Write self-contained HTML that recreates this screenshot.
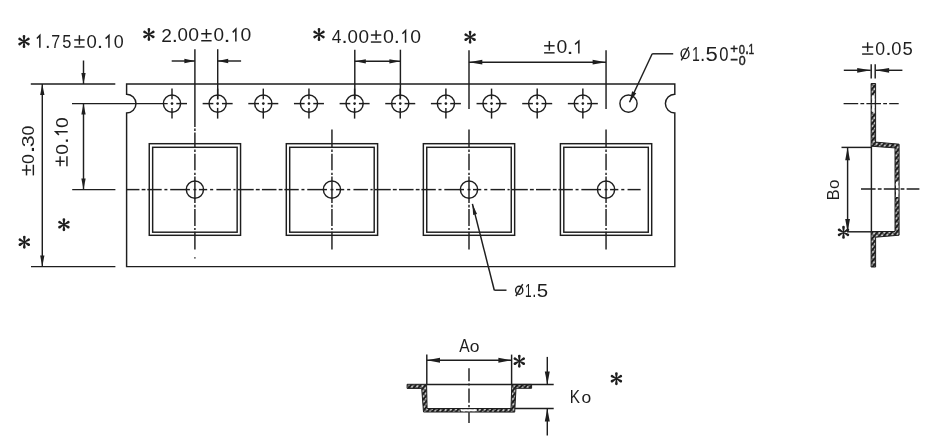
<!DOCTYPE html>
<html><head><meta charset="utf-8"><style>
html,body{margin:0;padding:0;background:#fff;}
svg{display:block;will-change:transform;}
text{font-family:"Liberation Sans",sans-serif;fill:#1e1e1e;stroke:none;}
.b text{stroke:#1e1e1e;stroke-width:0.45px;}
</style></head><body>
<svg width="950" height="445" viewBox="0 0 950 445" fill="none" stroke="#1e1e1e" stroke-linecap="butt">
<defs><pattern id="hatch" patternUnits="userSpaceOnUse" width="3.7" height="3.7" patternTransform="rotate(-50)">
<rect width="3.7" height="3.7" fill="#1e1e1e" stroke="none"/><rect x="0.5" y="1.2" width="2.7" height="1.35" fill="#fff" stroke="none"/></pattern></defs>
<rect x="0" y="0" width="950" height="445" fill="#fff" stroke="none"/>
<path d="M126.6,84.0 H674.8 V94.19999999999999 A9.4,9.4 0 0 0 674.8,113.0 V266.6 H126.6 V113.0 A9.4,9.4 0 0 0 126.6,94.19999999999999 Z" stroke-width="1.45"/>
<circle cx="172.00" cy="103.60" r="8.6" stroke-width="1.45"/>
<line x1="172.00" y1="88.60" x2="172.00" y2="99.30" stroke-width="1.45"/>
<line x1="172.00" y1="107.90" x2="172.00" y2="118.60" stroke-width="1.45"/>
<line x1="176.30" y1="103.60" x2="187.00" y2="103.60" stroke-width="1.45"/>
<line x1="72.00" y1="103.60" x2="167.70" y2="103.60" stroke-width="1.45"/>
<circle cx="172.00" cy="103.60" r="1.35" fill="#1e1e1e" stroke="none"/>
<circle cx="217.65" cy="103.60" r="8.6" stroke-width="1.45"/>
<line x1="217.65" y1="88.60" x2="217.65" y2="99.30" stroke-width="1.45"/>
<line x1="217.65" y1="107.90" x2="217.65" y2="118.60" stroke-width="1.45"/>
<line x1="221.95" y1="103.60" x2="232.65" y2="103.60" stroke-width="1.45"/>
<line x1="202.65" y1="103.60" x2="213.35" y2="103.60" stroke-width="1.45"/>
<circle cx="217.65" cy="103.60" r="1.35" fill="#1e1e1e" stroke="none"/>
<circle cx="263.30" cy="103.60" r="8.6" stroke-width="1.45"/>
<line x1="263.30" y1="88.60" x2="263.30" y2="99.30" stroke-width="1.45"/>
<line x1="263.30" y1="107.90" x2="263.30" y2="118.60" stroke-width="1.45"/>
<line x1="267.60" y1="103.60" x2="278.30" y2="103.60" stroke-width="1.45"/>
<line x1="248.30" y1="103.60" x2="259.00" y2="103.60" stroke-width="1.45"/>
<circle cx="263.30" cy="103.60" r="1.35" fill="#1e1e1e" stroke="none"/>
<circle cx="308.95" cy="103.60" r="8.6" stroke-width="1.45"/>
<line x1="308.95" y1="88.60" x2="308.95" y2="99.30" stroke-width="1.45"/>
<line x1="308.95" y1="107.90" x2="308.95" y2="118.60" stroke-width="1.45"/>
<line x1="313.25" y1="103.60" x2="323.95" y2="103.60" stroke-width="1.45"/>
<line x1="293.95" y1="103.60" x2="304.65" y2="103.60" stroke-width="1.45"/>
<circle cx="308.95" cy="103.60" r="1.35" fill="#1e1e1e" stroke="none"/>
<circle cx="354.60" cy="103.60" r="8.6" stroke-width="1.45"/>
<line x1="354.60" y1="88.60" x2="354.60" y2="99.30" stroke-width="1.45"/>
<line x1="354.60" y1="107.90" x2="354.60" y2="118.60" stroke-width="1.45"/>
<line x1="358.90" y1="103.60" x2="369.60" y2="103.60" stroke-width="1.45"/>
<line x1="339.60" y1="103.60" x2="350.30" y2="103.60" stroke-width="1.45"/>
<circle cx="354.60" cy="103.60" r="1.35" fill="#1e1e1e" stroke="none"/>
<circle cx="400.25" cy="103.60" r="8.6" stroke-width="1.45"/>
<line x1="400.25" y1="88.60" x2="400.25" y2="99.30" stroke-width="1.45"/>
<line x1="400.25" y1="107.90" x2="400.25" y2="118.60" stroke-width="1.45"/>
<line x1="404.55" y1="103.60" x2="415.25" y2="103.60" stroke-width="1.45"/>
<line x1="385.25" y1="103.60" x2="395.95" y2="103.60" stroke-width="1.45"/>
<circle cx="400.25" cy="103.60" r="1.35" fill="#1e1e1e" stroke="none"/>
<circle cx="445.90" cy="103.60" r="8.6" stroke-width="1.45"/>
<line x1="445.90" y1="88.60" x2="445.90" y2="99.30" stroke-width="1.45"/>
<line x1="445.90" y1="107.90" x2="445.90" y2="118.60" stroke-width="1.45"/>
<line x1="450.20" y1="103.60" x2="460.90" y2="103.60" stroke-width="1.45"/>
<line x1="430.90" y1="103.60" x2="441.60" y2="103.60" stroke-width="1.45"/>
<circle cx="445.90" cy="103.60" r="1.35" fill="#1e1e1e" stroke="none"/>
<circle cx="491.55" cy="103.60" r="8.6" stroke-width="1.45"/>
<line x1="491.55" y1="88.60" x2="491.55" y2="99.30" stroke-width="1.45"/>
<line x1="491.55" y1="107.90" x2="491.55" y2="118.60" stroke-width="1.45"/>
<line x1="495.85" y1="103.60" x2="506.55" y2="103.60" stroke-width="1.45"/>
<line x1="476.55" y1="103.60" x2="487.25" y2="103.60" stroke-width="1.45"/>
<circle cx="491.55" cy="103.60" r="1.35" fill="#1e1e1e" stroke="none"/>
<circle cx="537.20" cy="103.60" r="8.6" stroke-width="1.45"/>
<line x1="537.20" y1="88.60" x2="537.20" y2="99.30" stroke-width="1.45"/>
<line x1="537.20" y1="107.90" x2="537.20" y2="118.60" stroke-width="1.45"/>
<line x1="541.50" y1="103.60" x2="552.20" y2="103.60" stroke-width="1.45"/>
<line x1="522.20" y1="103.60" x2="532.90" y2="103.60" stroke-width="1.45"/>
<circle cx="537.20" cy="103.60" r="1.35" fill="#1e1e1e" stroke="none"/>
<circle cx="582.85" cy="103.60" r="8.6" stroke-width="1.45"/>
<line x1="582.85" y1="88.60" x2="582.85" y2="99.30" stroke-width="1.45"/>
<line x1="582.85" y1="107.90" x2="582.85" y2="118.60" stroke-width="1.45"/>
<line x1="587.15" y1="103.60" x2="597.85" y2="103.60" stroke-width="1.45"/>
<line x1="567.85" y1="103.60" x2="578.55" y2="103.60" stroke-width="1.45"/>
<circle cx="582.85" cy="103.60" r="1.35" fill="#1e1e1e" stroke="none"/>
<circle cx="628.50" cy="103.60" r="8.6" stroke-width="1.45"/>
<rect x="149.25" y="143.7" width="91.3" height="91.6" stroke-width="1.45"/>
<rect x="152.65" y="147.3" width="84.5" height="84.9" stroke-width="1.45"/>
<circle cx="194.90" cy="189.60" r="8.6" stroke-width="1.45"/>
<line x1="194.90" y1="49.20" x2="194.90" y2="127.00" stroke-width="1.45"/>
<line x1="194.90" y1="128.60" x2="194.90" y2="131.00" stroke-width="1.45"/>
<line x1="194.90" y1="132.60" x2="194.90" y2="147.20" stroke-width="1.45"/>
<line x1="194.90" y1="149.40" x2="194.90" y2="152.00" stroke-width="1.45"/>
<line x1="194.90" y1="153.80" x2="194.90" y2="170.30" stroke-width="1.45"/>
<line x1="194.90" y1="172.70" x2="194.90" y2="175.00" stroke-width="1.45"/>
<line x1="194.90" y1="176.60" x2="194.90" y2="203.10" stroke-width="1.45"/>
<line x1="194.90" y1="204.80" x2="194.90" y2="207.50" stroke-width="1.45"/>
<line x1="194.90" y1="209.10" x2="194.90" y2="226.10" stroke-width="1.45"/>
<line x1="194.90" y1="228.10" x2="194.90" y2="230.10" stroke-width="1.45"/>
<line x1="194.90" y1="231.80" x2="194.90" y2="249.60" stroke-width="1.45"/>
<line x1="194.90" y1="257.20" x2="194.90" y2="258.60" stroke-width="1.45"/>
<rect x="286.30" y="143.7" width="91.3" height="91.6" stroke-width="1.45"/>
<rect x="289.70" y="147.3" width="84.5" height="84.9" stroke-width="1.45"/>
<circle cx="331.95" cy="189.60" r="8.6" stroke-width="1.45"/>
<line x1="331.95" y1="129.40" x2="331.95" y2="147.20" stroke-width="1.45"/>
<line x1="331.95" y1="149.40" x2="331.95" y2="152.00" stroke-width="1.45"/>
<line x1="331.95" y1="153.80" x2="331.95" y2="170.30" stroke-width="1.45"/>
<line x1="331.95" y1="172.70" x2="331.95" y2="175.00" stroke-width="1.45"/>
<line x1="331.95" y1="176.60" x2="331.95" y2="203.10" stroke-width="1.45"/>
<line x1="331.95" y1="204.80" x2="331.95" y2="207.50" stroke-width="1.45"/>
<line x1="331.95" y1="209.10" x2="331.95" y2="226.10" stroke-width="1.45"/>
<line x1="331.95" y1="228.10" x2="331.95" y2="230.10" stroke-width="1.45"/>
<line x1="331.95" y1="231.80" x2="331.95" y2="249.60" stroke-width="1.45"/>
<rect x="423.35" y="143.7" width="91.3" height="91.6" stroke-width="1.45"/>
<rect x="426.75" y="147.3" width="84.5" height="84.9" stroke-width="1.45"/>
<circle cx="469.00" cy="189.60" r="8.6" stroke-width="1.45"/>
<line x1="469.00" y1="50.30" x2="469.00" y2="108.90" stroke-width="1.45"/>
<line x1="469.00" y1="129.40" x2="469.00" y2="147.20" stroke-width="1.45"/>
<line x1="469.00" y1="149.40" x2="469.00" y2="152.00" stroke-width="1.45"/>
<line x1="469.00" y1="153.80" x2="469.00" y2="170.30" stroke-width="1.45"/>
<line x1="469.00" y1="172.70" x2="469.00" y2="175.00" stroke-width="1.45"/>
<line x1="469.00" y1="176.60" x2="469.00" y2="203.10" stroke-width="1.45"/>
<line x1="469.00" y1="204.80" x2="469.00" y2="207.50" stroke-width="1.45"/>
<line x1="469.00" y1="209.10" x2="469.00" y2="226.10" stroke-width="1.45"/>
<line x1="469.00" y1="228.10" x2="469.00" y2="230.10" stroke-width="1.45"/>
<line x1="469.00" y1="231.80" x2="469.00" y2="249.60" stroke-width="1.45"/>
<rect x="560.40" y="143.7" width="91.3" height="91.6" stroke-width="1.45"/>
<rect x="563.80" y="147.3" width="84.5" height="84.9" stroke-width="1.45"/>
<circle cx="606.05" cy="189.60" r="8.6" stroke-width="1.45"/>
<line x1="606.05" y1="50.30" x2="606.05" y2="108.90" stroke-width="1.45"/>
<line x1="606.05" y1="129.40" x2="606.05" y2="147.20" stroke-width="1.45"/>
<line x1="606.05" y1="149.40" x2="606.05" y2="152.00" stroke-width="1.45"/>
<line x1="606.05" y1="153.80" x2="606.05" y2="170.30" stroke-width="1.45"/>
<line x1="606.05" y1="172.70" x2="606.05" y2="175.00" stroke-width="1.45"/>
<line x1="606.05" y1="176.60" x2="606.05" y2="203.10" stroke-width="1.45"/>
<line x1="606.05" y1="204.80" x2="606.05" y2="207.50" stroke-width="1.45"/>
<line x1="606.05" y1="209.10" x2="606.05" y2="226.10" stroke-width="1.45"/>
<line x1="606.05" y1="228.10" x2="606.05" y2="230.10" stroke-width="1.45"/>
<line x1="606.05" y1="231.80" x2="606.05" y2="249.60" stroke-width="1.45"/>
<line x1="72.20" y1="189.60" x2="115.40" y2="189.60" stroke-width="1.45"/>
<line x1="126.60" y1="189.60" x2="139.45" y2="189.60" stroke-width="1.45"/>
<line x1="141.65" y1="189.60" x2="145.45" y2="189.60" stroke-width="1.45"/>
<line x1="147.30" y1="189.60" x2="161.70" y2="189.60" stroke-width="1.45"/>
<line x1="164.40" y1="189.60" x2="167.40" y2="189.60" stroke-width="1.45"/>
<line x1="170.20" y1="189.60" x2="189.90" y2="189.60" stroke-width="1.45"/>
<line x1="193.40" y1="189.60" x2="196.40" y2="189.60" stroke-width="1.45"/>
<line x1="198.90" y1="189.60" x2="207.20" y2="189.60" stroke-width="1.45"/>
<line x1="210.10" y1="189.60" x2="213.20" y2="189.60" stroke-width="1.45"/>
<line x1="216.40" y1="189.60" x2="230.90" y2="189.60" stroke-width="1.45"/>
<line x1="233.40" y1="189.60" x2="235.60" y2="189.60" stroke-width="1.45"/>
<line x1="237.90" y1="189.60" x2="253.70" y2="189.60" stroke-width="1.45"/>
<line x1="255.80" y1="189.60" x2="259.70" y2="189.60" stroke-width="1.45"/>
<line x1="261.90" y1="189.60" x2="276.50" y2="189.60" stroke-width="1.45"/>
<line x1="278.70" y1="189.60" x2="282.50" y2="189.60" stroke-width="1.45"/>
<line x1="284.35" y1="189.60" x2="298.75" y2="189.60" stroke-width="1.45"/>
<line x1="301.45" y1="189.60" x2="304.45" y2="189.60" stroke-width="1.45"/>
<line x1="307.25" y1="189.60" x2="326.95" y2="189.60" stroke-width="1.45"/>
<line x1="330.45" y1="189.60" x2="333.45" y2="189.60" stroke-width="1.45"/>
<line x1="335.95" y1="189.60" x2="344.25" y2="189.60" stroke-width="1.45"/>
<line x1="347.15" y1="189.60" x2="350.25" y2="189.60" stroke-width="1.45"/>
<line x1="353.45" y1="189.60" x2="367.95" y2="189.60" stroke-width="1.45"/>
<line x1="370.45" y1="189.60" x2="372.65" y2="189.60" stroke-width="1.45"/>
<line x1="374.95" y1="189.60" x2="390.75" y2="189.60" stroke-width="1.45"/>
<line x1="392.85" y1="189.60" x2="396.75" y2="189.60" stroke-width="1.45"/>
<line x1="398.95" y1="189.60" x2="413.55" y2="189.60" stroke-width="1.45"/>
<line x1="415.75" y1="189.60" x2="419.55" y2="189.60" stroke-width="1.45"/>
<line x1="421.40" y1="189.60" x2="435.80" y2="189.60" stroke-width="1.45"/>
<line x1="438.50" y1="189.60" x2="441.50" y2="189.60" stroke-width="1.45"/>
<line x1="444.30" y1="189.60" x2="464.00" y2="189.60" stroke-width="1.45"/>
<line x1="467.50" y1="189.60" x2="470.50" y2="189.60" stroke-width="1.45"/>
<line x1="473.00" y1="189.60" x2="481.30" y2="189.60" stroke-width="1.45"/>
<line x1="484.20" y1="189.60" x2="487.30" y2="189.60" stroke-width="1.45"/>
<line x1="490.50" y1="189.60" x2="505.00" y2="189.60" stroke-width="1.45"/>
<line x1="507.50" y1="189.60" x2="509.70" y2="189.60" stroke-width="1.45"/>
<line x1="512.00" y1="189.60" x2="527.80" y2="189.60" stroke-width="1.45"/>
<line x1="529.90" y1="189.60" x2="533.80" y2="189.60" stroke-width="1.45"/>
<line x1="536.00" y1="189.60" x2="550.60" y2="189.60" stroke-width="1.45"/>
<line x1="552.80" y1="189.60" x2="556.60" y2="189.60" stroke-width="1.45"/>
<line x1="558.45" y1="189.60" x2="572.85" y2="189.60" stroke-width="1.45"/>
<line x1="575.55" y1="189.60" x2="578.55" y2="189.60" stroke-width="1.45"/>
<line x1="581.35" y1="189.60" x2="601.05" y2="189.60" stroke-width="1.45"/>
<line x1="604.55" y1="189.60" x2="607.55" y2="189.60" stroke-width="1.45"/>
<line x1="610.05" y1="189.60" x2="618.35" y2="189.60" stroke-width="1.45"/>
<line x1="621.25" y1="189.60" x2="624.35" y2="189.60" stroke-width="1.45"/>
<line x1="627.55" y1="189.60" x2="640.60" y2="189.60" stroke-width="1.45"/>
<line x1="30.80" y1="84.00" x2="115.30" y2="84.00" stroke-width="1.45"/>
<line x1="31.00" y1="266.60" x2="115.40" y2="266.60" stroke-width="1.45"/>
<line x1="83.50" y1="60.50" x2="83.50" y2="84.00" stroke-width="1.45"/>
<polygon points="83.50,84.00 81.35,73.00 85.65,73.00" fill="#1e1e1e" stroke="none"/>
<line x1="42.30" y1="84.00" x2="42.30" y2="266.60" stroke-width="1.45"/>
<polygon points="42.30,84.00 44.45,95.00 40.15,95.00" fill="#1e1e1e" stroke="none"/>
<polygon points="42.30,266.60 40.15,255.60 44.45,255.60" fill="#1e1e1e" stroke="none"/>
<line x1="83.50" y1="103.60" x2="83.50" y2="189.60" stroke-width="1.45"/>
<polygon points="83.50,103.60 85.65,114.60 81.35,114.60" fill="#1e1e1e" stroke="none"/>
<polygon points="83.50,189.60 81.35,178.60 85.65,178.60" fill="#1e1e1e" stroke="none"/>
<line x1="217.70" y1="49.20" x2="217.70" y2="99.30" stroke-width="1.45"/>
<line x1="171.70" y1="61.00" x2="194.90" y2="61.00" stroke-width="1.45"/>
<polygon points="194.90,61.00 184.40,63.15 184.40,58.85" fill="#1e1e1e" stroke="none"/>
<line x1="241.10" y1="61.00" x2="217.70" y2="61.00" stroke-width="1.45"/>
<polygon points="217.70,61.00 228.20,58.85 228.20,63.15" fill="#1e1e1e" stroke="none"/>
<line x1="354.80" y1="49.70" x2="354.80" y2="99.30" stroke-width="1.45"/>
<line x1="400.40" y1="49.70" x2="400.40" y2="99.30" stroke-width="1.45"/>
<line x1="354.80" y1="61.30" x2="400.40" y2="61.30" stroke-width="1.45"/>
<polygon points="354.80,61.30 365.80,59.15 365.80,63.45" fill="#1e1e1e" stroke="none"/>
<polygon points="400.40,61.30 389.40,63.45 389.40,59.15" fill="#1e1e1e" stroke="none"/>
<line x1="468.90" y1="62.20" x2="606.00" y2="62.20" stroke-width="1.45"/>
<polygon points="468.90,62.20 482.30,59.85 482.30,64.55" fill="#1e1e1e" stroke="none"/>
<polygon points="606.00,62.20 592.60,64.55 592.60,59.85" fill="#1e1e1e" stroke="none"/>
<line x1="652.20" y1="53.80" x2="673.20" y2="53.80" stroke-width="1.45"/>
<line x1="652.20" y1="53.80" x2="629.50" y2="102.20" stroke-width="1.45"/>
<polygon points="629.50,102.20 632.09,91.26 636.25,93.22" fill="#1e1e1e" stroke="none"/>
<line x1="494.30" y1="290.20" x2="506.50" y2="290.20" stroke-width="1.45"/>
<line x1="494.30" y1="290.20" x2="472.40" y2="203.90" stroke-width="1.45"/>
<polygon points="472.40,203.90 477.04,214.07 473.17,215.05" fill="#1e1e1e" stroke="none"/>
<line x1="871.20" y1="64.30" x2="871.20" y2="78.40" stroke-width="1.45"/>
<line x1="875.20" y1="64.30" x2="875.20" y2="78.40" stroke-width="1.45"/>
<line x1="843.80" y1="70.30" x2="870.70" y2="70.30" stroke-width="1.45"/>
<polygon points="870.70,70.30 857.20,72.65 857.20,67.95" fill="#1e1e1e" stroke="none"/>
<line x1="902.40" y1="70.30" x2="875.60" y2="70.30" stroke-width="1.45"/>
<polygon points="875.60,70.30 889.10,67.95 889.10,72.65" fill="#1e1e1e" stroke="none"/>
<path d="M871.1,83.5 L875.6,83.5 L875.6,142.1 L899.1,144.2 L899.1,235.2 L875.6,237.2 L875.6,267 L871.1,267 L871.1,231.5 L895,231.5 L895,147.9 L871.1,146.2 Z" fill="url(#hatch)" stroke-width="1.0"/>
<rect x="872.1" y="95.3" width="2.6" height="16.6" fill="#fff" stroke="none"/>
<rect x="896.0" y="181.7" width="2.4" height="15.3" fill="#fff" stroke="none"/>
<line x1="871.40" y1="146.20" x2="871.40" y2="231.50" stroke-width="1.45"/>
<line x1="843.60" y1="103.60" x2="898.70" y2="103.60" stroke-width="1.45" stroke-dasharray="14.6 2.2 3.8 2.2" stroke-dashoffset="0"/>
<line x1="861.00" y1="189.00" x2="919.40" y2="189.00" stroke-width="1.45" stroke-dasharray="14.6 2.2 3.8 2.2" stroke-dashoffset="0"/>
<line x1="841.50" y1="147.40" x2="871.40" y2="147.40" stroke-width="1.45"/>
<line x1="847.00" y1="231.80" x2="871.40" y2="231.80" stroke-width="1.45"/>
<line x1="847.60" y1="147.40" x2="847.60" y2="231.80" stroke-width="1.45"/>
<polygon points="847.60,147.40 850.00,160.20 845.20,160.20" fill="#1e1e1e" stroke="none"/>
<polygon points="847.60,231.80 845.20,219.00 850.00,219.00" fill="#1e1e1e" stroke="none"/>
<path d="M407.1,384.3 L426.6,384.3 L427.1,408.5 L511.0,408.5 L511.8,384.4 L531.6,384.4 L531.6,388.3 L516.0,388.3 L514.7,412.1 L423.5,412.0 L421.7,388.4 L407.1,388.4 Z" fill="url(#hatch)" stroke-width="1.0"/>
<rect x="461" y="409.3" width="15.8" height="2.0" fill="#fff" stroke="none"/>
<line x1="426.80" y1="354.50" x2="426.80" y2="384.30" stroke-width="1.45"/>
<line x1="511.60" y1="354.60" x2="511.60" y2="384.40" stroke-width="1.45"/>
<line x1="426.80" y1="360.30" x2="511.60" y2="360.30" stroke-width="1.45"/>
<polygon points="426.80,360.30 440.00,357.80 440.00,362.80" fill="#1e1e1e" stroke="none"/>
<polygon points="511.60,360.30 498.40,362.80 498.40,357.80" fill="#1e1e1e" stroke="none"/>
<line x1="426.80" y1="384.40" x2="553.70" y2="384.40" stroke-width="1.45"/>
<line x1="514.70" y1="408.50" x2="553.70" y2="408.50" stroke-width="1.45"/>
<line x1="547.30" y1="356.90" x2="547.30" y2="384.40" stroke-width="1.45"/>
<polygon points="547.30,384.40 544.80,371.40 549.80,371.40" fill="#1e1e1e" stroke="none"/>
<line x1="547.30" y1="435.50" x2="547.30" y2="408.50" stroke-width="1.45"/>
<polygon points="547.30,408.50 549.80,421.50 544.80,421.50" fill="#1e1e1e" stroke="none"/>
<line x1="469.00" y1="368.30" x2="469.00" y2="381.30" stroke-width="1.45"/>
<line x1="469.00" y1="383.40" x2="469.00" y2="385.60" stroke-width="1.45"/>
<line x1="469.00" y1="388.50" x2="469.00" y2="402.80" stroke-width="1.45"/>
<line x1="469.00" y1="405.00" x2="469.00" y2="407.20" stroke-width="1.45"/>
<line x1="469.00" y1="412.20" x2="469.00" y2="423.00" stroke-width="1.45"/>
<path d="M24.45,41.50 L25.35,36.35 A1.35,1.35 0 0 0 22.65,36.35 L23.55,41.50Z M24.23,41.11 L20.21,37.76 A1.35,1.35 0 0 0 18.86,40.09 L23.77,41.89Z M23.77,41.11 L18.86,42.91 A1.35,1.35 0 0 0 20.21,45.24 L24.23,41.89Z M23.55,41.50 L22.65,46.65 A1.35,1.35 0 0 0 25.35,46.65 L24.45,41.50Z M23.77,41.89 L27.79,45.24 A1.35,1.35 0 0 0 29.14,42.91 L24.23,41.11Z M24.23,41.89 L29.14,40.09 A1.35,1.35 0 0 0 27.79,37.76 L23.77,41.11Z" fill="#1e1e1e" stroke="none"/>
<path d="M149.35,34.40 L150.25,29.25 A1.35,1.35 0 0 0 147.55,29.25 L148.45,34.40Z M149.12,34.01 L145.11,30.66 A1.35,1.35 0 0 0 143.76,32.99 L148.68,34.79Z M148.68,34.01 L143.76,35.81 A1.35,1.35 0 0 0 145.11,38.14 L149.12,34.79Z M148.45,34.40 L147.55,39.55 A1.35,1.35 0 0 0 150.25,39.55 L149.35,34.40Z M148.68,34.79 L152.69,38.14 A1.35,1.35 0 0 0 154.04,35.81 L149.12,34.01Z M149.12,34.79 L154.04,32.99 A1.35,1.35 0 0 0 152.69,30.66 L148.68,34.01Z" fill="#1e1e1e" stroke="none"/>
<path d="M319.45,34.50 L320.35,29.35 A1.35,1.35 0 0 0 317.65,29.35 L318.55,34.50Z M319.23,34.11 L315.21,30.76 A1.35,1.35 0 0 0 313.86,33.09 L318.77,34.89Z M318.77,34.11 L313.86,35.91 A1.35,1.35 0 0 0 315.21,38.24 L319.23,34.89Z M318.55,34.50 L317.65,39.65 A1.35,1.35 0 0 0 320.35,39.65 L319.45,34.50Z M318.77,34.89 L322.79,38.24 A1.35,1.35 0 0 0 324.14,35.91 L319.23,34.11Z M319.23,34.89 L324.14,33.09 A1.35,1.35 0 0 0 322.79,30.76 L318.77,34.11Z" fill="#1e1e1e" stroke="none"/>
<path d="M470.55,37.20 L471.45,32.05 A1.35,1.35 0 0 0 468.75,32.05 L469.65,37.20Z M470.33,36.81 L466.31,33.46 A1.35,1.35 0 0 0 464.96,35.79 L469.88,37.59Z M469.88,36.81 L464.96,38.61 A1.35,1.35 0 0 0 466.31,40.94 L470.33,37.59Z M469.65,37.20 L468.75,42.35 A1.35,1.35 0 0 0 471.45,42.35 L470.55,37.20Z M469.88,37.59 L473.89,40.94 A1.35,1.35 0 0 0 475.24,38.61 L470.33,36.81Z M470.33,37.59 L475.24,35.79 A1.35,1.35 0 0 0 473.89,33.46 L469.88,36.81Z" fill="#1e1e1e" stroke="none"/>
<path d="M64.35,224.70 L65.25,219.55 A1.35,1.35 0 0 0 62.55,219.55 L63.45,224.70Z M64.12,224.31 L60.11,220.96 A1.35,1.35 0 0 0 58.76,223.29 L63.67,225.09Z M63.67,224.31 L58.76,226.11 A1.35,1.35 0 0 0 60.11,228.44 L64.12,225.09Z M63.45,224.70 L62.55,229.85 A1.35,1.35 0 0 0 65.25,229.85 L64.35,224.70Z M63.67,225.09 L67.69,228.44 A1.35,1.35 0 0 0 69.04,226.11 L64.12,224.31Z M64.12,225.09 L69.04,223.29 A1.35,1.35 0 0 0 67.69,220.96 L63.67,224.31Z" fill="#1e1e1e" stroke="none"/>
<path d="M24.75,242.20 L25.65,237.05 A1.35,1.35 0 0 0 22.95,237.05 L23.85,242.20Z M24.53,241.81 L20.51,238.46 A1.35,1.35 0 0 0 19.16,240.79 L24.07,242.59Z M24.07,241.81 L19.16,243.61 A1.35,1.35 0 0 0 20.51,245.94 L24.53,242.59Z M23.85,242.20 L22.95,247.35 A1.35,1.35 0 0 0 25.65,247.35 L24.75,242.20Z M24.07,242.59 L28.09,245.94 A1.35,1.35 0 0 0 29.44,243.61 L24.53,241.81Z M24.53,242.59 L29.44,240.79 A1.35,1.35 0 0 0 28.09,238.46 L24.07,241.81Z" fill="#1e1e1e" stroke="none"/>
<path d="M843.95,232.30 L844.85,227.15 A1.35,1.35 0 0 0 842.15,227.15 L843.05,232.30Z M843.73,231.91 L839.71,228.56 A1.35,1.35 0 0 0 838.36,230.89 L843.27,232.69Z M843.27,231.91 L838.36,233.71 A1.35,1.35 0 0 0 839.71,236.04 L843.73,232.69Z M843.05,232.30 L842.15,237.45 A1.35,1.35 0 0 0 844.85,237.45 L843.95,232.30Z M843.27,232.69 L847.29,236.04 A1.35,1.35 0 0 0 848.64,233.71 L843.73,231.91Z M843.73,232.69 L848.64,230.89 A1.35,1.35 0 0 0 847.29,228.56 L843.27,231.91Z" fill="#1e1e1e" stroke="none"/>
<path d="M519.75,361.20 L520.65,356.05 A1.35,1.35 0 0 0 517.95,356.05 L518.85,361.20Z M519.52,360.81 L515.51,357.46 A1.35,1.35 0 0 0 514.16,359.79 L519.07,361.59Z M519.07,360.81 L514.16,362.61 A1.35,1.35 0 0 0 515.51,364.94 L519.52,361.59Z M518.85,361.20 L517.95,366.35 A1.35,1.35 0 0 0 520.65,366.35 L519.75,361.20Z M519.07,361.59 L523.09,364.94 A1.35,1.35 0 0 0 524.44,362.61 L519.52,360.81Z M519.52,361.59 L524.44,359.79 A1.35,1.35 0 0 0 523.09,357.46 L519.07,360.81Z" fill="#1e1e1e" stroke="none"/>
<path d="M616.85,378.70 L617.75,373.55 A1.35,1.35 0 0 0 615.05,373.55 L615.95,378.70Z M616.62,378.31 L612.61,374.96 A1.35,1.35 0 0 0 611.26,377.29 L616.17,379.09Z M616.17,378.31 L611.26,380.11 A1.35,1.35 0 0 0 612.61,382.44 L616.62,379.09Z M615.95,378.70 L615.05,383.85 A1.35,1.35 0 0 0 617.75,383.85 L616.85,378.70Z M616.17,379.09 L620.19,382.44 A1.35,1.35 0 0 0 621.54,380.11 L616.62,378.31Z M616.62,379.09 L621.54,377.29 A1.35,1.35 0 0 0 620.19,374.96 L616.17,378.31Z" fill="#1e1e1e" stroke="none"/>
<path d="M36.90,38.60 L39.85,35.40 V47.70" stroke-width="1.5" stroke-linejoin="miter"/>
<text transform="translate(44.90,47.70) scale(0.955,1)" font-size="20.95">.</text>
<text transform="translate(51.30,47.70) scale(0.886,1)" font-size="18.12">7</text>
<text transform="translate(62.14,47.52) scale(0.920,1)" font-size="17.86">5</text>
<line x1="79.40" y1="35.20" x2="79.40" y2="44.70" stroke-width="1.45"/>
<line x1="74.20" y1="39.95" x2="84.60" y2="39.95" stroke-width="1.45"/>
<line x1="74.20" y1="46.95" x2="84.60" y2="46.95" stroke-width="1.45"/>
<text transform="translate(86.56,47.52) scale(1.052,1)" font-size="17.61">0</text>
<text transform="translate(96.82,47.70) scale(1.105,1)" font-size="20.95">.</text>
<path d="M105.60,38.60 L108.95,35.40 V47.70" stroke-width="1.5" stroke-linejoin="miter"/>
<text transform="translate(113.78,47.52) scale(1.016,1)" font-size="17.61">0</text>
<text transform="translate(161.24,41.50) scale(1.071,1)" font-size="17.86">2</text>
<text transform="translate(171.81,41.50) scale(1.055,1)" font-size="20.95">.</text>
<text transform="translate(177.55,41.32) scale(1.064,1)" font-size="17.61">0</text>
<text transform="translate(188.33,41.32) scale(1.100,1)" font-size="17.61">0</text>
<line x1="206.40" y1="29.00" x2="206.40" y2="38.50" stroke-width="1.45"/>
<line x1="201.20" y1="33.75" x2="211.60" y2="33.75" stroke-width="1.45"/>
<line x1="201.20" y1="40.75" x2="211.60" y2="40.75" stroke-width="1.45"/>
<text transform="translate(213.44,41.32) scale(1.076,1)" font-size="17.61">0</text>
<text transform="translate(223.53,41.50) scale(1.206,1)" font-size="20.95">.</text>
<path d="M232.70,32.40 L235.85,29.20 V41.50" stroke-width="1.5" stroke-linejoin="miter"/>
<text transform="translate(240.53,41.32) scale(1.100,1)" font-size="17.61">0</text>
<text transform="translate(331.76,42.80) scale(0.960,1)" font-size="18.12">4</text>
<text transform="translate(341.51,42.80) scale(1.055,1)" font-size="20.95">.</text>
<text transform="translate(347.55,42.62) scale(1.064,1)" font-size="17.61">0</text>
<text transform="translate(358.54,42.62) scale(1.076,1)" font-size="17.61">0</text>
<line x1="376.10" y1="30.30" x2="376.10" y2="39.80" stroke-width="1.45"/>
<line x1="370.90" y1="35.05" x2="381.30" y2="35.05" stroke-width="1.45"/>
<line x1="370.90" y1="42.05" x2="381.30" y2="42.05" stroke-width="1.45"/>
<text transform="translate(383.12,42.62) scale(1.112,1)" font-size="17.61">0</text>
<text transform="translate(393.81,42.80) scale(1.055,1)" font-size="20.95">.</text>
<path d="M402.40,33.70 L405.55,30.50 V42.80" stroke-width="1.5" stroke-linejoin="miter"/>
<text transform="translate(410.33,42.62) scale(1.100,1)" font-size="17.61">0</text>
<line x1="549.35" y1="41.00" x2="549.35" y2="50.60" stroke-width="1.45"/>
<line x1="544.10" y1="45.80" x2="554.60" y2="45.80" stroke-width="1.45"/>
<line x1="544.10" y1="52.85" x2="554.60" y2="52.85" stroke-width="1.45"/>
<text transform="translate(556.43,53.42) scale(1.091,1)" font-size="17.75">0</text>
<text transform="translate(566.53,53.60) scale(1.206,1)" font-size="20.95">.</text>
<path d="M575.10,44.40 L578.85,41.20 V53.60" stroke-width="1.5" stroke-linejoin="miter"/>
<line x1="867.65" y1="42.30" x2="867.65" y2="51.80" stroke-width="1.45"/>
<line x1="862.10" y1="47.05" x2="873.20" y2="47.05" stroke-width="1.45"/>
<line x1="862.10" y1="54.05" x2="873.20" y2="54.05" stroke-width="1.45"/>
<text transform="translate(875.29,54.62) scale(1.004,1)" font-size="17.61">0</text>
<text transform="translate(885.32,54.80) scale(1.105,1)" font-size="20.95">.</text>
<text transform="translate(891.37,54.62) scale(1.040,1)" font-size="17.61">0</text>
<text transform="translate(902.46,54.62) scale(1.037,1)" font-size="17.86">5</text>
<text transform="translate(691.95,60.70) scale(0.688,1)" font-size="20.29">1</text>
<text transform="translate(699.99,60.70) scale(0.904,1)" font-size="20.95">.</text>
<text transform="translate(705.52,60.50) scale(1.105,1)" font-size="20.00">5</text>
<text transform="translate(719.33,60.50) scale(0.843,1)" font-size="19.72">0</text>
<g class="b"><text transform="translate(730.14,53.14) scale(1.043,1)" font-size="12.65">+</text><text transform="translate(738.75,53.56) scale(0.825,1)" font-size="13.52">0</text><text transform="translate(744.97,53.70) scale(0.703,1)" font-size="20.95">.</text><text transform="translate(748.43,53.70) scale(0.735,1)" font-size="13.91">1</text><text transform="translate(730.14,66.47) scale(0.711,1)" font-size="18.57">−</text><text transform="translate(738.70,64.96) scale(0.919,1)" font-size="13.52">0</text></g>
<text transform="translate(525.01,296.90) scale(0.644,1)" font-size="18.41">1</text>
<text transform="translate(532.37,296.90) scale(0.703,1)" font-size="20.95">.</text>
<text transform="translate(536.68,296.72) scale(1.126,1)" font-size="18.14">5</text>
<text transform="translate(459.22,351.70) scale(0.848,1)" font-size="18.39">A</text>
<text transform="translate(469.80,351.54) scale(1.105,1)" font-size="15.82">o</text>
<text transform="translate(569.68,402.80) scale(0.825,1)" font-size="18.55">K</text>
<text transform="translate(581.50,402.64) scale(1.105,1)" font-size="15.82">o</text>
<g transform="rotate(-90)"><line x1="-170.05" y1="21.90" x2="-170.05" y2="31.10" stroke-width="1.45"/><line x1="-175.40" y1="26.50" x2="-164.70" y2="26.50" stroke-width="1.45"/><line x1="-175.40" y1="33.35" x2="-164.70" y2="33.35" stroke-width="1.45"/><text transform="translate(-163.91,33.93) scale(1.029,1)" font-size="17.18">0</text><text transform="translate(-153.94,34.10) scale(1.557,1)" font-size="20.95">.</text><text transform="translate(-147.25,33.93) scale(1.238,1)" font-size="17.18">3</text><text transform="translate(-135.61,33.93) scale(1.029,1)" font-size="17.18">0</text></g>
<g transform="rotate(-90)"><line x1="-161.25" y1="55.50" x2="-161.25" y2="64.70" stroke-width="1.45"/><line x1="-166.20" y1="60.10" x2="-156.30" y2="60.10" stroke-width="1.45"/><line x1="-166.20" y1="66.95" x2="-156.30" y2="66.95" stroke-width="1.45"/><text transform="translate(-154.77,67.53) scale(1.115,1)" font-size="17.18">0</text><text transform="translate(-143.98,67.70) scale(1.156,1)" font-size="20.95">.</text><path d="M-134.90,58.90 L-131.75,55.70 V67.70" stroke-width="1.5" stroke-linejoin="miter"/><text transform="translate(-128.07,67.53) scale(1.127,1)" font-size="17.18">0</text></g>
<g transform="rotate(-90)"><text transform="translate(-200.20,838.60) scale(0.951,1)" font-size="17.10">B</text><text transform="translate(-188.88,838.74) scale(1.066,1)" font-size="16.00">o</text></g>
<ellipse cx="685.05" cy="53.75" rx="3.95" ry="4.85" stroke-width="1.4"/>
<line x1="681.30" y1="60.40" x2="688.60" y2="47.00" stroke-width="1.4"/>
<ellipse cx="519.20" cy="290.25" rx="3.60" ry="4.05" stroke-width="1.4"/>
<line x1="515.90" y1="296.10" x2="522.70" y2="284.20" stroke-width="1.4"/>
</svg></body></html>
